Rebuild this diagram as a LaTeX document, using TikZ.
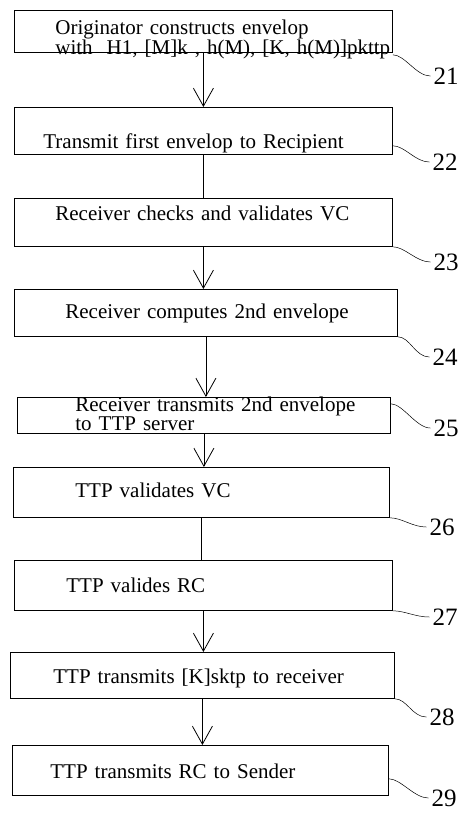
\documentclass[tikz,border=0pt]{standalone}
\usepackage{fontspec}
\setmainfont{Liberation Serif}
\usetikzlibrary{arrows.meta,positioning,calc}

\tikzset{
  stepbox/.style={draw, line width=.8pt, anchor=north west, align=left,
    inner xsep=3pt, inner ysep=0pt, font=\fontsize{21}{16}\selectfont},
  flow/.style={line width=.8pt, -{Straight Barb[length=18pt,width=20pt,line width=.8pt]}},
  link/.style={line width=.8pt},
  lead/.style={line width=.5pt},
  refnum/.style={font=\fontsize{25}{25}\selectfont, inner sep=3pt}
}

\begin{document}
\begin{tikzpicture}[x=1pt,y=-1pt]
  \useasboundingbox (0,0) rectangle (469,815);
  % steps: id/left/top/width/height/indent/text height/text depth/text
  \foreach \id/\x/\y/\w/\h/\ind/\th/\td/\txt in {
      21/14/10/378/42/38/16/10/{Originator constructs envelop\\\mbox{\hspace*{\ind pt}with\ \ H1, [M]k , h(M), [K, h(M)]pkttp}},
      22/14/107/378/47/26/36/1/{Transmit first envelop to Recipient},
      23/14/198/378/48/38/10/14/{Receiver checks and validates VC},
      24/14/289/383/47/48/14/3/{Receiver computes 2nd envelope},
      25/17/397/373/36/55/6/14/{Receiver transmits 2nd envelope\\\hspace*{\ind pt}to TTP server},
      26/13/467/376/50/59/14/4/{TTP validates VC},
      27/14/560/378/50/49/16/2/{TTP valides RC},
      28/10/652/384/46/40/18/2/{TTP transmits [K]sktp to receiver},
      29/12/745/376/50/35/18/2/{TTP transmits RC to Sender}} {
    \pgfmathsetmacro\tw{\w-6}
    \node[stepbox, minimum width=\w pt, minimum height=\h pt, text width=\tw pt,
      text height=\th pt, text depth=\td pt] (b\id) at (\x,\y) {\hspace*{\ind pt}\txt};
  }
  % connectors
  \foreach \a/\b in {21/22,23/24,24/25,25/26,27/28,28/29}
    \draw[flow] (b\a.south) -- (b\a.south |- b\b.north);
  \foreach \a/\b in {22/23,26/27}
    \draw[link] (b\a.south) -- (b\a.south |- b\b.north);
  % reference numerals
  \foreach \id/\lx/\ly/\dy in {21/446/76/2,22/445/162/-9,23/446/262/0,24/445/357/0,
      25/446/428/-30,26/442/527/0,27/445/617/0,28/442/717/0,29/444/798/-17} {
    \node[refnum] (n\id) at (\lx,\ly) {\id};
    \draw[lead] ($(b\id.south east)+(0,\dy)$) .. controls +(12,0) and +(-14,0) .. (n\id.west);
  }
\end{tikzpicture}
\end{document}
